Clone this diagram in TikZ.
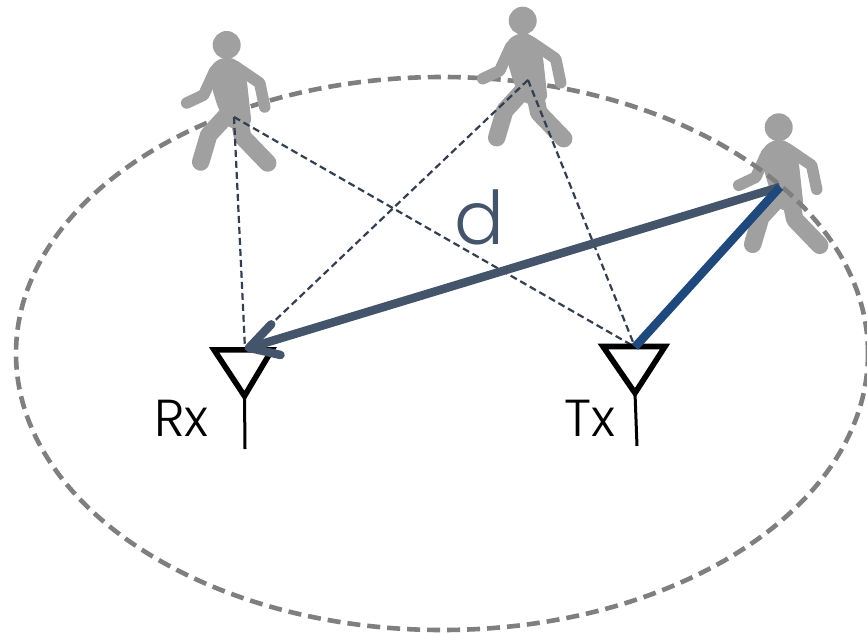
\documentclass[tikz,border=0pt]{standalone}
\usepackage{fontspec}
\setmainfont{Poppins Light}
\usetikzlibrary{arrows.meta}
\definecolor{walk}{HTML}{A0A0A0}
\definecolor{ring}{HTML}{7F7F7F}
\definecolor{slate}{HTML}{44546A}
\definecolor{dashc}{HTML}{333F50}
\definecolor{blu}{HTML}{1F497D}
\tikzset{
  x=1pt,y=-1pt,
  limb/.style={draw=walk,line cap=round,line join=round},
  walker/.pic={
    \fill[walk] (0,0) circle[radius=14];
    \fill[walk,rounded corners=6] (-17,22) -- (-7,13) -- (9,13) -- (20,34) -- (25,80) -- (2,84) -- (-9,62) -- (-15,42) -- cycle;
    \draw[limb,line width=11.5] (-12,26) -- (-23,50) -- (-40,58);
    \draw[limb,line width=11.5] (8,21) -- (33,38) -- (38,62);
    \draw[limb,line width=17.5] (4,66) -- (-18,90) -- (-26,117);
    \draw[limb,line width=17.5] (12,72) -- (16,92) -- (41,118);
  },
  ringline/.style={draw=ring,line width=4.6,dash pattern=on 13pt off 7pt},
  thin link/.style={draw=dashc,line width=2.2,dash pattern=on 7pt off 4pt},
  antenna/.style={draw=black,line width=5.6,miter limit=10},
  mast/.style={draw=black,line width=3},
  lab/.style={inner sep=0,anchor=base west,font=\fontsize{52}{52}\selectfont},
}
\begin{document}
\begin{tikzpicture}
\useasboundingbox (0,0) rectangle (867,634);
\fill[white] (0,0) rectangle (867,634);
\pic at (778.7,127.3) {walker};
\draw[ringline] (442,353.5) ellipse[x radius=426,y radius=276.5];
\pic at (226.7,45) {walker};
\pic at (522.7,20.7) {walker};
\coordinate (p1) at (234,117);
\coordinate (p2) at (528,80);
\coordinate (p3) at (780,187);
\coordinate (rx) at (245,349);
\coordinate (tx) at (635,347);
\coordinate (rxa) at (214,349.8);
\coordinate (rxb) at (272,349.8);
\coordinate (rxc) at (244.5,396);
\coordinate (rxd) at (245,449);
\coordinate (txa) at (603,346.5);
\coordinate (txb) at (665,346.5);
\coordinate (txc) at (635,393);
\coordinate (txd) at (637,446);
\draw[thin link] (p1) -- (rx);
\draw[thin link] (p1) -- (tx);
\draw[thin link] (p2) -- (rx);
\draw[thin link] (p2) -- (tx);
\draw[antenna] (rxa) -- (rxb) -- (rxc) -- cycle;
\draw[antenna] (txa) -- (txb) -- (txc) -- cycle;
\draw[mast] (rxc) -- (rxd);
\draw[mast] (txc) -- (txd);
\draw[slate,line width=8.5,-{Straight Barb[length=28pt,width=32pt,round]}] (p3) -- (rx);
\draw[blu,line width=8.5] (p3) -- (tx);
\node[lab] (rxl) at (154,436) {Rx};
\node[lab] (txl) at (564,436) {Tx};
\node[lab,text=slate,font=\fontsize{74}{74}\selectfont] (dl) at (454,244) {d};
\end{tikzpicture}
\end{document}
